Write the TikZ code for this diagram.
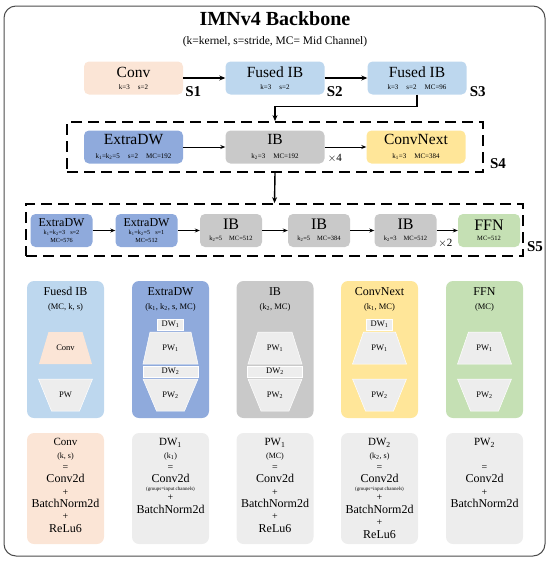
\documentclass[tikz,border=0pt]{standalone}
\usepackage{fontspec}
\setmainfont{Liberation Serif}
\usetikzlibrary{arrows.meta,positioning,calc}

\definecolor{convpeach}{HTML}{FBE5D6}
\definecolor{fusedblue}{HTML}{BDD7EE}
\definecolor{extrablue}{HTML}{8FAADC}
\definecolor{ibgray}{HTML}{C9C9C9}
\definecolor{nextyellow}{HTML}{FFE699}
\definecolor{ffngreen}{HTML}{C5E0B4}
\definecolor{piecegray}{HTML}{EDEDED}

\newcommand{\fsz}[1]{\fontsize{#1}{#1}\selectfont}
\newcommand{\kgap}{\hspace{8pt}}

\begin{document}
\begin{tikzpicture}[x=1pt, y=-1pt,
  blk/.style={rounded corners=5pt, minimum width=99pt, minimum height=33pt,
    inner sep=0pt, align=center, font=\fsz{15.5}},
  sblk/.style={rounded corners=5pt, minimum width=62pt, minimum height=33pt,
    inner sep=0pt, align=center},
  arr/.style={-{Stealth[length=6pt,width=5pt]}, line width=1.4pt},
  tarr/.style={-{Stealth[length=5pt,width=4pt]}, line width=0.8pt},
  stagebox/.style={draw, line width=1.8pt, dash pattern=on 11pt off 6pt, inner sep=0pt},
  stagelbl/.style={font=\bfseries\fsz{15}, inner sep=0pt},
  panel/.style={rounded corners=7pt, minimum width=77pt, minimum height=137pt, inner sep=0pt},
  ptitle/.style={anchor=north, align=center, font=\fsz{12}, inner sep=0pt},
  piece/.style={fill=piecegray, draw=white, line width=0.5pt},
  plbl/.style={font=\fsz{8.5}, inner sep=0pt},
  defbox/.style={rounded corners=7pt, minimum width=77pt, minimum height=111pt, inner sep=0pt},
  deftxt/.style={anchor=north, align=center, font=\fontsize{12}{12.3}\selectfont, inner sep=0pt},
]
\useasboundingbox (0,0) rectangle (550,562);

% Frame and title
\draw[black!70, line width=1pt, rounded corners=12pt] (4,6) rectangle (545,556);
\node[font=\bfseries\fsz{20}] (title) at (275,19) {IMNv4 Backbone};
\node[font=\fsz{11.5}] (subtitle) at (275,42) {(k=kernel, s=stride, MC= Mid Channel)};

% Stages S1-S3
\node[blk, fill=convpeach] (conv) at (133.5,78) {Conv\\[-3.5pt]{\fsz{7}k=3\kgap s=2}};
\node[blk, fill=fusedblue] (fib1) at (275,78) {Fused IB\\[-3.5pt]{\fsz{7}k=3\kgap s=2}};
\node[blk, fill=fusedblue] (fib2) at (417,78) {Fused IB\\[-3.5pt]{\fsz{7}k=3\kgap s=2\kgap MC=96}};

\node[stagelbl, anchor=base west] (s1) at ([xshift=2pt,yshift=-2pt]conv.south east) {S1};
\node[stagelbl, anchor=base west] (s2) at ([xshift=2pt,yshift=-2pt]fib1.south east) {S2};
\node[stagelbl, anchor=base west] (s3) at ([xshift=3pt,yshift=-2pt]fib2.south east) {S3};

\draw[arr] (conv) -- (fib1);
\draw[arr] (fib1) -- (fib2);

% Stage S4
\node[stagebox, minimum width=416pt, minimum height=50pt] (s4) at (275,147) {};
\node[blk, fill=extrablue] (xdw4) at (133.5,147)
  {ExtraDW\\[-2pt]{\fsz{7}k\textsubscript{1}=k\textsubscript{2}=5\kgap s=2\kgap MC=192}};
\node[blk, fill=ibgray] (ib4) at (275,147)
  {IB\\[-2pt]{\fsz{7}k\textsubscript{2}=3\kgap MC=192}};
\node[blk, fill=nextyellow] (cnx4) at (416,147)
  {ConvNext\\[-2pt]{\fsz{7}k\textsubscript{1}=3\kgap MC=384}};
\node[font=\fsz{11}, anchor=base west, inner sep=0pt] (x4) at ([xshift=3pt,yshift=2pt]ib4.south east) {$\times$4};
\node[stagelbl, anchor=base west] (s4l) at ([xshift=6pt,yshift=4pt]s4.south east) {S4};

\draw[tarr] (xdw4) -- (ib4);
\draw[tarr] (ib4) -- (cnx4);
\draw[arr] (fib2.south) -- ++(0,12) -| (s4.north);

% Stage S5
\node[stagebox, minimum width=497pt, minimum height=52pt] (s5) at (274.5,230) {};
\node[sblk, fill=extrablue, font=\fsz{12}] (xdw5a) at (61.5,230.5)
  {ExtraDW\\[-4pt]{\fsz{6.2}k\textsubscript{1}=k\textsubscript{2}=3\hspace{5pt}s=2}\\[-4pt]{\fsz{6.2}MC=576}};
\node[sblk, fill=extrablue, font=\fsz{12}] (xdw5b) at (146.5,230.5)
  {ExtraDW\\[-4pt]{\fsz{6.2}k\textsubscript{1}=k\textsubscript{2}=5\hspace{5pt}s=1}\\[-4pt]{\fsz{6.2}MC=512}};
\node[sblk, fill=ibgray, font=\fsz{16}] (ib5a) at (231,230.5)
  {IB\\[-5.5pt]{\fsz{6.5}k\textsubscript{2}=5\hspace{7pt}MC=512}};
\node[sblk, fill=ibgray, font=\fsz{16}] (ib5b) at (319,230.5)
  {IB\\[-5.5pt]{\fsz{6.5}k\textsubscript{2}=5\hspace{7pt}MC=384}};
\node[sblk, fill=ibgray, font=\fsz{16}] (ib5c) at (405.5,230.5)
  {IB\\[-5.5pt]{\fsz{6.5}k\textsubscript{2}=3\hspace{7pt}MC=512}};
\node[sblk, fill=ffngreen, font=\fsz{16}] (ffn5) at (489,230.5)
  {FFN\\[-5.5pt]{\fsz{6.5}MC=512}};
\node[font=\fsz{11}, anchor=base west, inner sep=0pt] (x2) at ([xshift=1.5pt,yshift=1pt]ib5c.south east) {$\times$2};
\node[stagelbl, anchor=base west] (s5l) at ([xshift=3pt,yshift=5pt]s5.south east) {S5};

\draw[tarr] (xdw5a) -- (xdw5b);
\draw[tarr] (xdw5b) -- (ib5a);
\draw[tarr] (ib5a) -- (ib5b);
\draw[tarr] (ib5b) -- (ib5c);
\draw[tarr] (ib5c) -- (ffn5);
\draw[arr] (s4.south) -- (s5.north);

% Block panels
\node[panel, fill=fusedblue] (pfib) at (65.5,349.5) {};
\node[panel, fill=extrablue] (pxdw) at (170.5,349.5) {};
\node[panel, fill=ibgray] (pib) at (275,349.5) {};
\node[panel, fill=nextyellow] (pcnx) at (379.5,349.5) {};
\node[panel, fill=ffngreen] (pffn) at (484.5,349.5) {};

\node[ptitle] (tfib) at (65.5,287) {Fuesd IB\\[2pt]{\fsz{8.5}(MC, k, s)}};
\node[ptitle] (txdw) at (170.5,287) {ExtraDW\\[2pt]{\fsz{8.5}(k\textsubscript{1}, k\textsubscript{2}, s, MC)}};
\node[ptitle] (tib) at (275,287) {IB\\[2pt]{\fsz{8.5}(k\textsubscript{2}, MC)}};
\node[ptitle] (tcnx) at (379.5,287) {ConvNext\\[2pt]{\fsz{8.5}(k\textsubscript{1}, MC)}};
\node[ptitle] (tffn) at (484.5,287) {FFN\\[2pt]{\fsz{8.5}(MC)}};

% Fused IB
\fill[convpeach] (48.5,332) -- (82.5,332) -- (92,364) -- (39,364) -- cycle;
\fill[piece] (38.5,379) -- (92.5,379) -- (79.5,411) -- (51.5,411) -- cycle;
\node[plbl] (fibc) at (65.5,348) {Conv};
\node[plbl] (fibp) at (65.5,395) {PW};

% ExtraDW
\fill[piece] (157.5,319) rectangle (183.5,330);
\fill[piece] (150,332) -- (191,332) -- (198,364) -- (143,364) -- cycle;
\fill[piece] (143,366) rectangle (198,377);
\fill[piece] (143,379) -- (198,379) -- (184.5,411) -- (156.5,411) -- cycle;
\node[plbl] (xdwd1) at (170.5,324.5) {DW\textsubscript{1}};
\node[plbl] (xdwp1) at (170.5,348) {PW\textsubscript{1}};
\node[plbl] (xdwd2) at (170.5,371.5) {DW\textsubscript{2}};
\node[plbl] (xdwp2) at (170.5,395) {PW\textsubscript{2}};

% IB
\fill[piece] (258,332) -- (292,332) -- (302,364) -- (248,364) -- cycle;
\fill[piece] (247.5,366) rectangle (302.5,377);
\fill[piece] (248,379) -- (302,379) -- (289,411) -- (261,411) -- cycle;
\node[plbl] (ibp1) at (275,348) {PW\textsubscript{1}};
\node[plbl] (ibd2) at (275,371.5) {DW\textsubscript{2}};
\node[plbl] (ibp2) at (275,395) {PW\textsubscript{2}};

% ConvNext
\fill[piece] (366.5,319) rectangle (392.5,330);
\fill[piece] (363.5,332) -- (395.5,332) -- (406.5,364) -- (352.5,364) -- cycle;
\fill[piece] (352.5,379) -- (406.5,379) -- (393.5,411) -- (365.5,411) -- cycle;
\node[plbl] (cnxd1) at (379.5,324.5) {DW\textsubscript{1}};
\node[plbl] (cnxp1) at (379.5,348) {PW\textsubscript{1}};
\node[plbl] (cnxp2) at (379.5,395) {PW\textsubscript{2}};

% FFN
\fill[piece] (468.5,332) -- (500.5,332) -- (511.5,364) -- (457.5,364) -- cycle;
\fill[piece] (457.5,379) -- (511.5,379) -- (498.5,411) -- (470.5,411) -- cycle;
\node[plbl] (ffnp1) at (484.5,348) {PW\textsubscript{1}};
\node[plbl] (ffnp2) at (484.5,395) {PW\textsubscript{2}};

% Layer definitions
\node[defbox, fill=convpeach] (dconv) at (65.5,488.5) {};
\node[defbox, fill=piecegray] (ddw1) at (170.5,488.5) {};
\node[defbox, fill=piecegray] (dpw1) at (275,488.5) {};
\node[defbox, fill=piecegray] (ddw2) at (379.5,488.5) {};
\node[defbox, fill=piecegray] (dpw2) at (484.5,488.5) {};

\node[deftxt] (tconv) at (65.5,438.5) {{\fsz{11}Conv}\\{\fsz{8}(k, s)}\\{\fsz{10}=}\\Conv2d\\{\fsz{10}+}\\BatchNorm2d\\{\fsz{10}+}\\ReLu6};
\node[deftxt] (tdw1) at (170.5,438.5) {{\fsz{11}DW\textsubscript{1}}\\{\fsz{8}(k\textsubscript{1})}\\{\fsz{10}=}\\Conv2d\\[-4.2pt]{\fsz{5}(groups=input channels)}\\[-3.2pt]{\fsz{10}+}\\[0.8pt]BatchNorm2d};
\node[deftxt] (tpw1) at (275,438.5) {{\fsz{11}PW\textsubscript{1}}\\{\fsz{8}(MC)}\\{\fsz{10}=}\\Conv2d\\{\fsz{10}+}\\BatchNorm2d\\{\fsz{10}+}\\ReLu6};
\node[deftxt] (tdw2) at (379.5,438.5) {{\fsz{11}DW\textsubscript{2}}\\{\fsz{8}(k\textsubscript{2}, s)}\\{\fsz{10}=}\\Conv2d\\[-4.2pt]{\fsz{5}(groups=input channels)}\\[-3.2pt]{\fsz{10}+}\\[0.8pt]BatchNorm2d\\{\fsz{10}+}\\[1pt]ReLu6};
\node[deftxt] (tpw2) at (484.5,438.5) {{\fsz{11}PW\textsubscript{2}}\\ \\{\fsz{10}=}\\Conv2d\\{\fsz{10}+}\\BatchNorm2d};

\end{tikzpicture}
\end{document}
